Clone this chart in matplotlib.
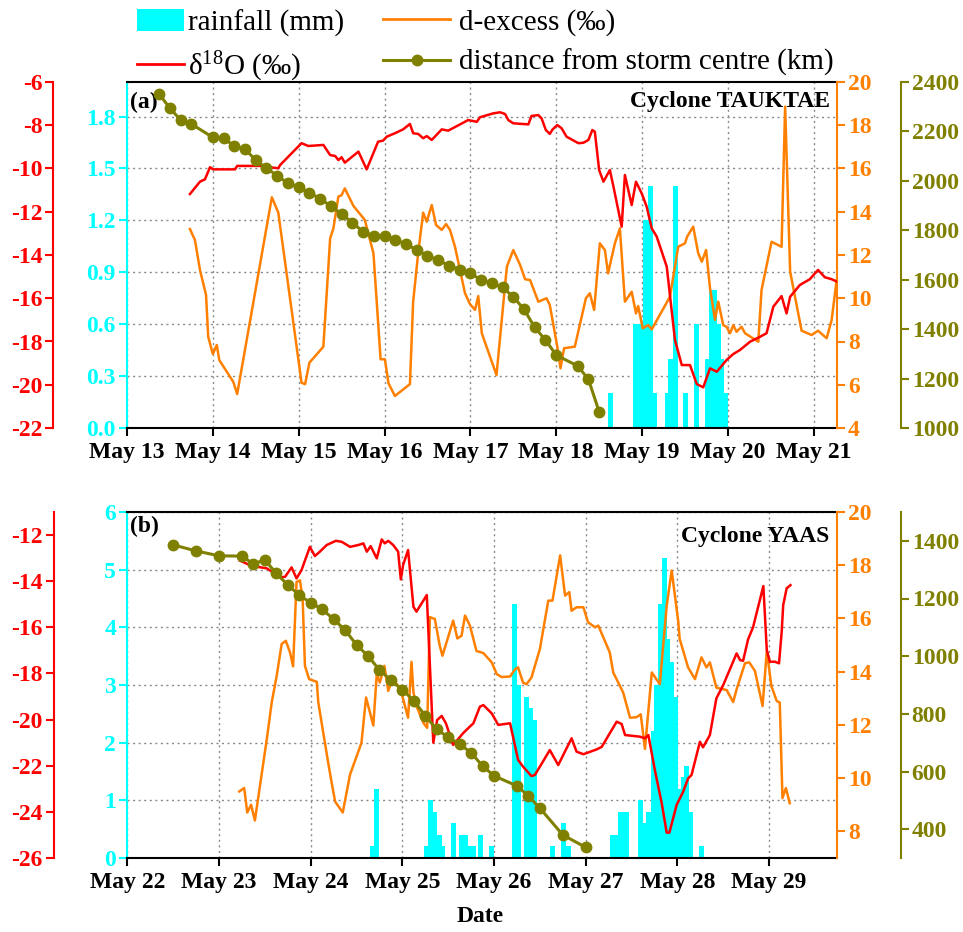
import numpy as np
import matplotlib.pyplot as plt
from matplotlib.patches import Patch
from matplotlib.lines import Line2D

plt.rcParams["font.family"] = ["Liberation Serif", "DejaVu Serif"]
plt.rcParams["font.weight"] = "bold"
plt.rcParams["mathtext.default"] = "regular"
plt.rcParams["axes.unicode_minus"] = False

CYAN = "#00FFFF"
RED = "#FF0000"
ORANGE = "#FF8000"
OLIVE = "#808000"

# ---- panel (a): Cyclone TAUKTAE, hours since May 13 00:00 ----
a_rain_h = [135.1, 142.2, 143.5, 145.0, 146.3, 147.4, 151.0, 152.0, 153.3, 156.2,
            159.3, 162.3, 163.5, 164.4, 165.3, 166.3, 167.5]
a_rain_mm = [0.2, 0.6, 0.6, 1.2, 1.4, 0.2, 0.2, 0.4, 1.4, 0.2,
             0.6, 0.4, 0.8, 0.8, 0.6, 0.4, 0.2]

a_d18_h = [17.6, 20.4, 21.8, 23.2, 24.1, 30.2, 30.8, 37.2, 42.3, 42.8,
           48.8, 50.7, 54.9, 56.8, 58.2, 59.1, 60.0, 60.9, 64.7, 67.0,
           70.2, 71.6, 72.6, 74.9, 77.2, 79.1, 80.0, 81.4, 82.8, 83.8,
           85.2, 88.0, 89.8, 95.4, 97.8, 98.7, 102.4, 104.3, 105.7, 106.6,
           108.0, 112.2, 113.1, 115.0, 115.9, 117.1, 118.2, 119.0, 120.3, 121.5,
           122.9, 126.2, 127.6, 129.0, 130.1, 130.8, 132.0, 133.2, 135.0, 136.0,
           138.3, 139.2, 141.1, 142.3, 143.9, 145.3, 146.7, 148.1, 150.9, 153.2,
           155.1, 157.4, 159.3, 161.1, 163.0, 164.9, 167.6, 169.5, 171.4, 174.2,
           177.0, 178.8, 180.7, 183.0, 184.4, 185.4, 188.1, 190.9, 193.2, 195.1,
           197.0, 198.4]
a_d18_v = [-11.18, -10.61, -10.50, -9.94, -10.04, -10.04, -9.88, -9.88, -9.99, -9.84,
           -8.83, -8.96, -8.91, -9.38, -9.42, -9.61, -9.48, -9.73, -9.22, -10.04,
           -8.76, -8.71, -8.53, -8.37, -8.19, -7.94, -8.37, -8.40, -8.60, -8.50,
           -8.68, -8.19, -8.25, -7.76, -7.84, -7.63, -7.45, -7.40, -7.48, -7.76,
           -7.91, -7.96, -7.57, -7.53, -7.68, -8.22, -8.40, -8.19, -7.99, -8.14,
           -8.53, -8.83, -8.81, -8.68, -8.22, -8.30, -10.07, -10.61, -10.07, -10.84,
           -12.69, -10.30, -11.69, -10.61, -11.15, -11.77, -12.77, -13.15, -14.54, -17.93,
           -19.09, -19.09, -19.97, -20.12, -19.24, -19.40, -18.86, -18.58, -18.39, -18.01,
           -17.78, -17.62, -16.39, -15.90, -16.70, -15.93, -15.39, -15.12, -14.69, -15.03,
           -15.12, -15.23]

a_dex_h = [17.6, 19.0, 20.4, 22.1, 22.7, 24.0, 25.1, 25.8, 29.7, 30.8,
           40.5, 42.3, 48.8, 49.8, 51.0, 54.9, 56.8, 57.7, 59.1, 60.0,
           60.9, 63.3, 66.5, 68.9, 70.9, 72.1, 73.1, 74.9, 79.1, 80.0,
           81.4, 82.8, 83.8, 85.2, 86.4, 88.0, 89.2, 90.3, 91.7, 94.5,
           95.9, 97.3, 98.2, 99.2, 103.3, 106.2, 108.0, 109.9, 111.3, 112.7,
           115.0, 117.3, 118.2, 120.3, 121.2, 122.2, 125.2, 128.3, 129.4, 130.6,
           132.2, 133.6, 134.5, 136.4, 137.8, 139.2, 141.1, 142.3, 142.9, 144.2,
           145.7, 146.7, 151.8, 154.1, 156.0, 156.6, 158.3, 159.7, 160.7, 161.9,
           163.0, 164.4, 165.3, 166.7, 167.6, 168.6, 169.5, 170.4, 171.8, 172.8,
           176.5, 177.4, 180.2, 183.0, 184.0, 185.4, 188.6, 191.4, 193.2, 195.6,
           197.0, 198.4]
a_dex_v = [13.20, 12.69, 11.31, 10.15, 8.22, 7.42, 7.84, 7.14, 6.14, 5.57,
           14.67, 13.96, 6.09, 6.03, 7.02, 7.76, 12.77, 13.23, 14.70, 14.77,
           15.08, 14.27, 13.62, 12.08, 7.18, 7.18, 6.07, 5.48, 6.03, 9.84,
           12.08, 13.96, 13.54, 14.31, 13.39, 13.16, 13.43, 13.16, 12.38, 10.23,
           9.73, 9.46, 10.10, 8.38, 6.45, 11.46, 12.23, 11.54, 10.88, 10.84,
           9.84, 10.00, 9.69, 7.76, 6.76, 7.69, 7.76, 10.00, 10.23, 9.46,
           12.54, 12.23, 11.15, 12.54, 13.23, 9.84, 10.30, 9.30, 9.64, 8.61,
           8.76, 8.56, 10.07, 12.38, 12.54, 12.85, 13.31, 12.08, 11.69, 12.23,
           10.46, 9.00, 9.84, 8.76, 8.68, 8.38, 8.76, 8.45, 8.68, 8.38,
           7.99, 10.38, 12.61, 12.38, 18.86, 11.23, 8.50, 8.30, 8.50, 8.15,
           8.99, 10.84]

a_km_h = [9, 12, 15, 18, 24, 27, 30, 33, 36, 39, 42, 45, 48, 51, 54, 57, 60, 63, 66, 69,
          72, 75, 78, 81, 84, 87, 90, 93, 96, 99, 102, 105, 108, 111, 114, 117, 120,
          126, 129, 132]
a_km_v = [2351, 2294, 2246, 2230, 2176, 2172, 2141, 2128, 2084, 2051, 2021, 1990, 1974,
          1952, 1928, 1898, 1866, 1831, 1794, 1777, 1777, 1761, 1745, 1720, 1697, 1680,
          1657, 1640, 1626, 1599, 1586, 1569, 1531, 1480, 1407, 1356, 1295, 1251, 1197, 1066]

# ---- panel (b): Cyclone YAAS, hours since May 22 00:00 ----
b_rain_h = [64.2, 65.3, 78.3, 79.4, 80.5, 81.6, 82.6, 85.4, 87.4, 88.5,
            89.5, 90.5, 92.5, 95.4, 101.4, 102.5, 104.4, 105.5, 106.6, 111.3,
            114.2, 115.5, 127.0, 128.0, 129.0, 130.0, 130.8, 134.4, 135.5, 136.5,
            137.7, 138.6, 139.5, 140.5, 141.5, 142.5, 143.5, 144.5, 145.5, 146.5,
            147.5, 150.3]
b_rain_mm = [0.2, 1.2, 0.2, 1.0, 0.8, 0.4, 0.2, 0.6, 0.4, 0.4,
             0.2, 0.2, 0.4, 0.2, 4.4, 3.0, 2.8, 2.6, 2.4, 0.2,
             0.6, 0.2, 0.4, 0.4, 0.8, 0.8, 0.8, 1.0, 0.6, 0.8,
             2.2, 3.0, 4.4, 5.2, 3.8, 3.4, 2.8, 1.2, 1.4, 1.6,
             0.8, 0.2]

b_d18_h = [29.5, 32.6, 36.5, 40.0, 41.3, 43.0, 44.3, 45.6, 47.8, 49.1,
           50.4, 52.2, 54.6, 56.1, 58.3, 60.5, 61.8, 62.7, 63.7, 65.3,
           66.6, 67.4, 68.3, 69.6, 70.9, 71.6, 72.2, 73.5, 74.9, 75.7,
           78.4, 80.1, 81.1, 82.3, 83.4, 85.3, 87.9, 89.5, 90.6, 92.3,
           93.2, 95.4, 97.1, 100.2, 102.3, 103.6, 105.8, 106.7, 110.6, 112.8,
           114.1, 116.3, 117.6, 119.4, 122.9, 124.2, 128.1, 129.4, 130.3, 134.2,
           135.5, 136.4, 138.1, 139.9, 141.2, 141.9, 143.8, 145.5, 146.8, 147.7,
           149.9, 150.7, 152.5, 154.2, 156.0, 159.5, 160.4, 161.2, 162.5, 163.8,
           166.5, 167.4, 168.2, 169.5, 170.6, 171.3, 171.7, 172.6, 173.6]
b_d18_v = [-13.11, -13.34, -13.44, -13.83, -13.81, -13.40, -13.88, -13.52, -12.51, -12.91,
           -12.72, -12.43, -12.25, -12.29, -12.51, -12.43, -12.36, -12.72, -12.48, -13.01,
           -12.19, -12.36, -12.25, -12.43, -12.72, -13.92, -13.30, -12.65, -15.11, -15.32,
           -14.60, -21.00, -20.02, -19.84, -20.16, -21.10, -20.59, -20.33, -20.16, -19.44,
           -19.37, -19.73, -20.23, -20.16, -21.75, -22.04, -22.45, -22.40, -21.32, -21.97,
           -21.54, -20.81, -21.39, -21.50, -21.29, -21.18, -20.09, -20.19, -20.67, -20.74,
           -20.81, -20.67, -22.19, -23.63, -24.90, -24.90, -23.70, -23.13, -22.55, -22.40,
           -20.96, -21.20, -20.67, -19.08, -18.50, -17.13, -17.42, -17.45, -16.52, -16.00,
           -14.21, -16.98, -17.49, -17.49, -17.56, -16.19, -15.03, -14.31, -14.17]

b_dex_h = [29.3, 30.6, 31.4, 32.4, 33.4, 36.5, 37.8, 39.1, 40.4, 41.5,
           42.6, 43.4, 44.3, 45.2, 45.9, 46.5, 47.6, 49.6, 50.0, 52.6,
           53.2, 54.4, 56.4, 58.3, 61.3, 62.5, 64.4, 65.3, 66.1, 67.3,
           68.3, 69.5, 70.9, 71.8, 73.5, 74.4, 74.9, 75.7, 77.5, 78.5,
           79.2, 80.5, 81.8, 82.5, 85.3, 86.4, 87.5, 88.4, 89.7, 91.4,
           93.2, 95.4, 96.7, 98.0, 100.2, 101.5, 102.3, 103.6, 104.5, 105.8,
           108.0, 110.2, 111.3, 113.3, 114.6, 115.7, 116.3, 117.6, 119.4, 120.6,
           122.4, 123.3, 126.3, 127.2, 129.8, 131.6, 133.3, 134.4, 135.5, 137.3,
           139.4, 141.2, 142.5, 144.2, 144.6, 146.8, 148.6, 150.3, 151.6, 152.5,
           154.2, 156.9, 158.6, 159.5, 161.7, 162.8, 164.3, 166.3, 167.4, 168.6,
           170.0, 170.8, 171.5, 172.4, 173.4]
b_dex_v = [9.50, 9.63, 8.71, 9.00, 8.41, 11.45, 12.84, 13.84, 15.04, 15.16,
           14.72, 14.20, 17.37, 17.43, 16.74, 14.22, 13.72, 13.62, 12.84, 10.57,
           10.07, 9.12, 8.71, 10.13, 11.33, 13.03, 11.98, 13.91, 13.59, 14.22,
           13.28, 13.74, 13.46, 13.19, 12.27, 14.37, 13.22, 12.71, 12.08, 11.89,
           16.05, 15.98, 14.97, 14.60, 15.92, 15.25, 15.35, 16.11, 15.73, 14.78,
           14.70, 14.35, 13.91, 13.80, 13.82, 14.09, 14.16, 13.59, 13.53, 13.78,
           14.85, 16.67, 16.67, 18.37, 16.86, 16.99, 16.29, 16.42, 16.42, 15.86,
           15.67, 15.73, 14.72, 13.97, 13.22, 12.27, 12.29, 12.40, 11.10, 13.97,
           13.53, 16.48, 17.80, 15.92, 15.23, 14.16, 13.72, 14.54, 14.16, 14.35,
           13.40, 13.31, 12.86, 13.34, 14.32, 14.35, 14.03, 12.71, 14.78, 13.46,
           12.90, 12.84, 9.25, 9.63, 9.06]

b_km_h = [12, 18, 24, 30, 33, 36, 39, 42, 45, 48, 51, 54, 57, 60, 63, 66, 69, 72,
          75, 78, 81, 84, 87, 90, 93, 96, 102, 105, 108, 114, 120]
b_km_v = [1386, 1365, 1348, 1347, 1320, 1334, 1287, 1247, 1212, 1185, 1163, 1128,
          1091, 1039, 1001, 952, 917, 883, 846, 793, 746, 719, 695, 665, 619, 585,
          550, 515, 473, 380, 337]

fig = plt.figure(figsize=(9.63, 9.32), dpi=100)
W, H = 963, 932
TICK_FS = 17


def style_y(axis_obj, color):
    axis_obj.tick_params(axis="y", colors=color, direction="out", length=6,
                         width=1.5, labelsize=TICK_FS, pad=2)


def draw_panel(box, xmax, first_day, rain_h, rain_mm, red_h, red_v, dex_h, dex_v,
               km_h, km_v, rain_lim, rain_ticks, rain_fmt, red_lim, red_ticks,
               dex_lim, dex_ticks, km_lim, km_ticks, tag, name, tag_y, name_y):
    left, top, right, bottom = box
    ax = fig.add_axes([left / W, 1 - bottom / H, (right - left) / W, (bottom - top) / H])
    ax.bar(rain_h, rain_mm, width=1.3, color=CYAN, linewidth=0)
    ax.set_xlim(0, xmax)
    ax.set_ylim(*rain_lim)
    ax.set_yticks(rain_ticks)
    ax.set_yticklabels([rain_fmt.format(t) for t in rain_ticks])
    days = np.arange(0, xmax, 24)
    ax.set_xticks(days)
    ax.set_xticklabels([f"May {first_day + i}" for i in range(len(days))])
    ax.tick_params(axis="x", direction="out", length=6, width=1.5,
                   labelsize=TICK_FS, pad=4)
    style_y(ax, CYAN)
    ax.grid(True, linestyle=(0, (1.5, 2.5)), color="#8a8a8a", linewidth=1.0)
    ax.set_axisbelow(True)
    for s in ["left", "top", "bottom", "right"]:
        ax.spines[s].set_linewidth(1.5)
    ax.spines["left"].set_color(CYAN)
    ax.spines["right"].set_visible(False)

    ax_dex = ax.twinx()
    ax_red = ax.twinx()
    ax_km = ax.twinx()

    ax_dex.plot(dex_h, dex_v, color=ORANGE, lw=1.8)
    ax_red.plot(red_h, red_v, color=RED, lw=1.8)
    ax_km.plot(km_h, km_v, color=OLIVE, lw=2.2, marker="o", ms=7.5)

    ax_dex.set_ylim(*dex_lim)
    ax_dex.set_yticks(dex_ticks)
    ax_red.set_ylim(*red_lim)
    ax_red.set_yticks(red_ticks)
    ax_km.set_ylim(*km_lim)
    ax_km.set_yticks(km_ticks)

    for tw in (ax_dex, ax_red, ax_km):
        for s in ["left", "top", "bottom", "right"]:
            tw.spines[s].set_visible(False)
            tw.spines[s].set_linewidth(1.5)

    ax_dex.spines["right"].set_visible(True)
    ax_dex.spines["right"].set_color(ORANGE)
    style_y(ax_dex, ORANGE)

    ax_red.yaxis.tick_left()
    ax_red.spines["left"].set_visible(True)
    ax_red.spines["left"].set_position(("outward", 53))
    ax_red.spines["left"].set_color(RED)
    style_y(ax_red, RED)

    ax_km.spines["right"].set_visible(True)
    ax_km.spines["right"].set_position(("outward", 46))
    ax_km.spines["right"].set_color(OLIVE)
    style_y(ax_km, OLIVE)

    ax.text(0.004, tag_y, tag, transform=ax.transAxes, ha="left", va="center",
            fontsize=17, fontweight="bold")
    ax.text(0.99, name_y, name, transform=ax.transAxes, ha="right", va="center",
            fontsize=17, fontweight="bold")
    return ax


draw_panel((127, 82, 837, 428), 198.5, 13, a_rain_h, a_rain_mm, a_d18_h, a_d18_v,
           a_dex_h, a_dex_v, a_km_h, a_km_v,
           (0, 2.0), [0.0, 0.3, 0.6, 0.9, 1.2, 1.5, 1.8], "{:.1f}",
           (-22, -6), list(range(-22, -5, 2)),
           (4, 20), list(range(4, 21, 2)),
           (1000, 2400), list(range(1000, 2401, 200)),
           "(a)", "Cyclone TAUKTAE", 0.94, 0.945)

draw_panel((127.3, 512, 836.7, 858), 185.7, 22, b_rain_h, b_rain_mm, b_d18_h, b_d18_v,
           b_dex_h, b_dex_v, b_km_h, b_km_v,
           (0, 6), [0, 1, 2, 3, 4, 5, 6], "{:d}",
           (-26, -11), list(range(-26, -11, 2)),
           (7, 20), list(range(8, 21, 2)),
           (300, 1500), list(range(400, 1401, 200)),
           "(b)", "Cyclone YAAS", 0.957, 0.928)

fig.text(480 / W, 1 - 916 / H, "Date", ha="center", va="center",
         fontsize=17, fontweight="bold")

leg_font = {"size": 21, "weight": "normal"}
fig.legend(handles=[Patch(facecolor=CYAN, edgecolor="none"),
                    Line2D([], [], color=RED, lw=2)],
           labels=["rainfall (mm)", "δ$^{18}$O (‰)"],
           loc="upper left", bbox_to_anchor=(137 / W, 1 - 9 / H), frameon=False,
           handlelength=1.6, handleheight=0.8, handletextpad=0.15,
           labelspacing=0.45, borderpad=0, borderaxespad=0, prop=leg_font)
fig.legend(handles=[Line2D([], [], color=ORANGE, lw=2),
                    Line2D([], [], color=OLIVE, lw=2.2, marker="o", ms=7.5)],
           labels=["d-excess (‰)", "distance from storm centre (km)"],
           loc="upper left", bbox_to_anchor=(383 / W, 1 - 9 / H), frameon=False,
           handlelength=2.3, handletextpad=0.3,
           labelspacing=0.45, borderpad=0, borderaxespad=0, prop=leg_font)

fig.savefig("out.png", dpi=100)
